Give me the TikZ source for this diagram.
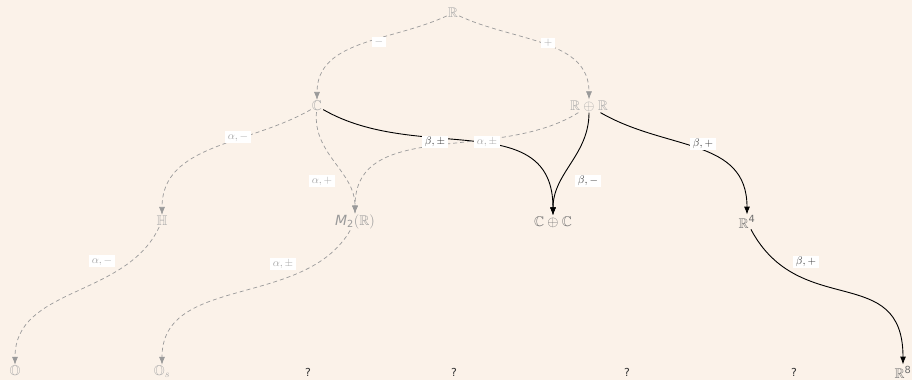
\documentclass[tikz,border=0pt]{standalone}
\usepackage{amsmath,amssymb}
\usepackage{fontspec}
\setsansfont{DejaVu Sans}
\usetikzlibrary{arrows.meta}
\definecolor{bg}{HTML}{FBF2E9}
\definecolor{gtext}{HTML}{A8A8A8}
\definecolor{mtext}{HTML}{6E6E6E}
\definecolor{gline}{HTML}{9A9A9A}
\definecolor{dtext}{HTML}{333333}
\begin{document}
\begin{tikzpicture}[x=1pt,y=-1pt,
  gnode/.style={text=gtext,font=\fontsize{14}{16}\selectfont,inner sep=1pt},
  bnode/.style={text=mtext,font=\fontsize{14}{16}\selectfont,inner sep=1pt},
  qnode/.style={text=dtext,font=\sffamily\fontsize{11}{13}\selectfont,inner sep=1pt},
  alpha/.style={gline,line width=0.7pt,dash pattern=on 4pt off 3pt,-{Latex[length=8pt,width=6pt]}},
  beta/.style={black,line width=0.9pt,-{Latex[length=8pt,width=6pt]}},
  glab/.style={fill=white,text=gtext,font=\fontsize{11}{12}\selectfont,inner xsep=2.5pt,inner ysep=1.5pt},
  blab/.style={fill=white,text=dtext,font=\fontsize{11}{12}\selectfont,inner xsep=2.5pt,inner ysep=1.5pt}]
\fill[bg] (0,0) rectangle (912,380);
\useasboundingbox (0,0) rectangle (912,380);

\node[gnode] (R) at (453,13) {$\mathbb{R}$};
\node[gnode] (C) at (317,106) {$\mathbb{C}$};
\node[gnode] (RR) at (589,106) {$\mathbb{R}\oplus\mathbb{R}$};
\node[gnode] (H) at (162,221) {$\mathbb{H}$};
\node[gnode,text=gline] (M) at (355,222) {{\sffamily\itshape M}$_{\textsf{2}}(\mathbb{R})$};
\node[bnode] (CC) at (553,222) {$\mathbb{C}\oplus\mathbb{C}$};
\node[bnode] (R4) at (747,222) {$\mathbb{R}^{\textsf{4}}$};
\node[gnode] (O) at (15,372) {$\mathbb{O}$};
\node[gnode] (Os) at (162,372) {$\mathbb{O}_s$};
\node[qnode] (q1) at (308,372) {?};
\node[qnode] (q2) at (454,372) {?};
\node[qnode] (q3) at (627,372) {?};
\node[qnode] (q4) at (794,372) {?};
\node[bnode] (R8) at (903,372) {$\mathbb{R}^{\textsf{8}}$};

\draw[alpha] (R) to[out=205,in=90] (C);
\draw[alpha] (R) to[out=-25,in=90] (RR);
\draw[alpha] (C) to[out=210,in=90] (H);
\draw[alpha] (C) to[out=-95,in=90] (M);
\draw[beta] (C) to[out=-30,in=90,looseness=1.1] (CC);
\draw[alpha] (RR) to[out=212,in=90] (M);
\draw[beta] (RR) to[out=-90,in=90] (CC);
\draw[beta] (RR) to[out=-30,in=90,looseness=1.1] (R4);
\draw[alpha] (H) to[out=-115,in=90] (O);
\draw[alpha] (M) to[out=-120,in=90] (Os);
\draw[beta] (R4) to[out=-62,in=90,looseness=1.3] (R8);

\node[glab] (lm) at (379,42) {$-$};
\node[glab] (lp) at (548,43) {$+$};
\node[glab] (l1) at (238,137) {$\alpha,-$};
\node[glab] (l2) at (322,181) {$\alpha,+$};
\node[blab] (l3) at (435,142) {$\beta,\pm$};
\node[glab] (l4) at (487,142) {$\alpha,\pm$};
\node[blab] (l5) at (588,181) {$\beta,-$};
\node[blab] (l6) at (703,144) {$\beta,+$};
\node[glab] (l7) at (102,261) {$\alpha,-$};
\node[glab] (l8) at (283,264) {$\alpha,\pm$};
\node[blab] (l9) at (806,262) {$\beta,+$};
\end{tikzpicture}
\end{document}
